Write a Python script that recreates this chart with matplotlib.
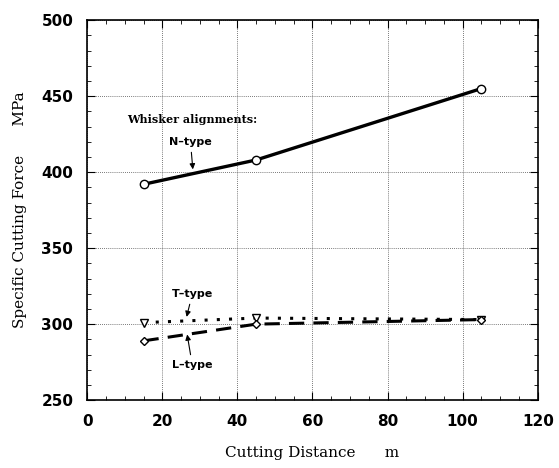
import numpy as np
import matplotlib.pyplot as plt
from matplotlib.ticker import MultipleLocator

# cutting distance (m) and specific cutting force (MPa) per whisker alignment
distance = [15, 45, 105]
n_type = [392, 408, 455]
t_type = [301, 304, 303]
l_type = [289, 300, 303]

fig = plt.figure(figsize=(5.59, 4.68), dpi=100)
ax = fig.add_axes([0.156, 0.145, 0.806, 0.812])

ax.plot(distance, n_type, 'k-', lw=2.4, marker='o', ms=6, mfc='white', mew=1.0, zorder=3)
ax.plot(distance, t_type, 'k', ls=(0, (1, 3)), lw=2.2, marker='v', ms=6, mfc='white', mew=1.0, zorder=3)
ax.plot(distance, l_type, 'k', ls=(0, (5, 3)), lw=2.2, marker='D', ms=4.5, mfc='white', mew=1.0, zorder=3)

ax.set_xlim(0, 120)
ax.set_ylim(250, 500)
ax.xaxis.set_major_locator(MultipleLocator(20))
ax.xaxis.set_minor_locator(MultipleLocator(5))
ax.yaxis.set_major_locator(MultipleLocator(50))
ax.yaxis.set_minor_locator(MultipleLocator(10))
ax.tick_params(which='both', direction='in', top=True, right=True)
ax.tick_params(which='major', length=6, pad=10)
ax.tick_params(which='minor', length=3)
for lab in ax.get_xticklabels() + ax.get_yticklabels():
    lab.set_fontweight('bold')
    lab.set_fontsize(11)
ax.grid(True, which='major', ls=(0, (1, 1.5)), lw=0.6, color='0.3')
for s in ax.spines.values():
    s.set_linewidth(1.2)

ax.set_xlabel('Cutting Distance      m', family='serif', fontsize=11, labelpad=12)
ax.set_ylabel('Specific Cutting Force      MPa', family='serif', fontsize=11, labelpad=10)

txt = dict(fontsize=8, fontweight='bold', ha='center')
ax.text(28, 432, 'Whisker alignments:', family='serif', **txt)
ax.annotate('N\u2013type', xy=(28.2, 400), xytext=(27.5, 418), family='sans-serif',
            arrowprops=dict(arrowstyle='-|>', color='k', lw=0.8), **txt)
ax.annotate('T\u2013type', xy=(26.3, 303), xytext=(28, 318), family='sans-serif',
            arrowprops=dict(arrowstyle='-|>', color='k', lw=0.8), **txt)
ax.annotate('L\u2013type', xy=(26.5, 295), xytext=(28, 271), family='sans-serif',
            arrowprops=dict(arrowstyle='-|>', color='k', lw=0.8), **txt)

fig.savefig('out.png', dpi=100)
